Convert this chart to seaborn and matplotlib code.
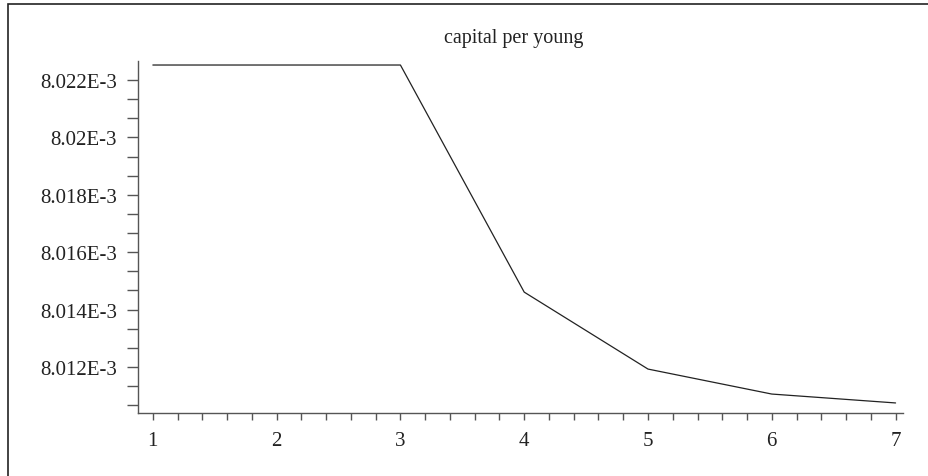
import matplotlib
matplotlib.use("Agg")
import matplotlib.pyplot as plt
import seaborn as sns
import pandas as pd
from matplotlib.ticker import MultipleLocator, AutoMinorLocator, FuncFormatter
from matplotlib.patches import Rectangle

# data
period = [1, 2, 3, 4, 5, 6, 7]
capital = [8.02252e-3, 8.02252e-3, 8.02252e-3, 8.01461e-3, 8.01193e-3, 8.01106e-3, 8.01075e-3]
title = "capital per young"

df = pd.DataFrame({"period": period, "capital": capital})

sns.set_style("ticks")
plt.rcParams["font.family"] = ["Liberation Serif", "DejaVu Serif"]

fig = plt.figure(figsize=(9.29, 4.77), dpi=100)
ax = fig.add_axes([138 / 929, 1 - 414 / 477, (903 - 138) / 929, (414 - 62) / 477])

sns.lineplot(data=df, x="period", y="capital", ax=ax, color="#222222", linewidth=0.9)

ax.set_xlim(0.88, 7.06)
ax.set_ylim(8.0104e-3, 8.02266e-3)

ax.xaxis.set_major_locator(MultipleLocator(1))
ax.xaxis.set_minor_locator(AutoMinorLocator(5))
ax.yaxis.set_major_locator(MultipleLocator(2e-6))
ax.yaxis.set_minor_locator(AutoMinorLocator(3))
ax.yaxis.set_major_formatter(FuncFormatter(lambda v, p: f"{round(v * 1e3, 4):g}E-3"))

for side in ["top", "right"]:
    ax.spines[side].set_visible(False)
for side in ["left", "bottom"]:
    ax.spines[side].set_color("#555555")
    ax.spines[side].set_linewidth(1.0)

ax.tick_params(axis="both", which="both", color="#555555", width=1.0, labelsize=15,
               labelcolor="#222222")
ax.tick_params(axis="y", which="both", length=8, pad=7)
ax.tick_params(axis="x", which="both", length=5, pad=8)
ax.set_xlabel("")
ax.set_ylabel("")

fig.text(514 / 929, 1 - 38 / 477, title, ha="center", va="center", fontsize=14.5, color="#222222")

# outer frame
fig.add_artist(Rectangle((8 / 929, -0.2), 1.2, 1.2 - 5 / 477, transform=fig.transFigure,
                         fill=False, edgecolor="#222222", linewidth=1.2))

fig.savefig("out.png", dpi=100)
